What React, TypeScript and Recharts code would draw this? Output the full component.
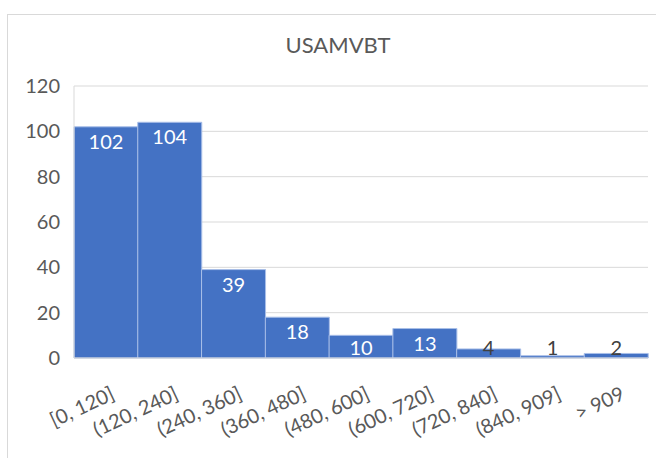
import { BarChart, Bar, XAxis, YAxis, CartesianGrid, LabelList } from 'recharts';

// bins and counts
const bins = ['[0, 120]', '(120, 240]', '(240, 360]', '(360, 480]', '(480, 600]', '(600, 720]', '(720, 840]', '(840, 909]', '> 909'];
const counts = [102, 104, 39, 18, 10, 13, 4, 1, 2];
const yTicks = [0, 20, 40, 60, 80, 100, 120];

const data = bins.map((bin, i) => ({ bin, count: counts[i] }));

const FONT = "Lato, 'Open Sans', sans-serif";
const TEXT = '#595959';

function BinTick(props: any) {
  const { x, y, payload } = props;
  return (
    <g transform={`translate(${x + 4},${y + 28}) rotate(-25)`}>
      <text x={0} y={0} dy={14} textAnchor="end" fill={TEXT} fontSize={20} fontFamily={FONT}>
        {payload.value}
      </text>
    </g>
  );
}

function CountLabel(props: any) {
  const { x, y, width, height, value } = props;
  const base = y + height;
  // labels sit inside the top of the bar, but never below the axis
  const baseline = Math.min(y + 22, base - 3);
  const fits = height > 20;
  return (
    <text
      x={x + width / 2}
      y={baseline}
      textAnchor="middle"
      fill={fits ? '#ffffff' : '#404040'}
      fontSize={20}
      fontFamily={FONT}
    >
      {value}
    </text>
  );
}

export default function App() {
  return (
    <div
      style={{
        position: 'fixed',
        left: 7,
        top: 14,
        width: 648,
        height: 443,
        borderTop: '1px solid #d9d9d9',
        borderLeft: '1px solid #d9d9d9',
        background: '#fff',
      }}
    >
      <BarChart
        width={648}
        height={443}
        data={data}
        margin={{ top: 71, right: 8, left: 0, bottom: 0 }}
        barCategoryGap={0}
      >
        <text x={330} y={38} textAnchor="middle" fill={TEXT} fontSize={22} fontFamily={FONT}>
          USAMVBT
        </text>
        <CartesianGrid vertical={false} stroke="#d9d9d9" />
        <XAxis
          dataKey="bin"
          height={100}
          interval={0}
          tickLine={false}
          tickSize={0}
          tickMargin={0}
          axisLine={{ stroke: '#d9d9d9' }}
          tick={<BinTick />}
        />
        <YAxis
          width={66}
          domain={[0, 120]}
          ticks={yTicks}
          tickLine={false}
          tickSize={0}
          tickMargin={14}
          axisLine={{ stroke: '#d9d9d9' }}
          tick={{ fill: TEXT, fontSize: 20, fontFamily: FONT }}
        />
        <Bar dataKey="count" fill="#4472C4" stroke="#a9bfe8" strokeWidth={1} isAnimationActive={false}>
          <LabelList dataKey="count" content={<CountLabel />} />
        </Bar>
      </BarChart>
    </div>
  );
}
